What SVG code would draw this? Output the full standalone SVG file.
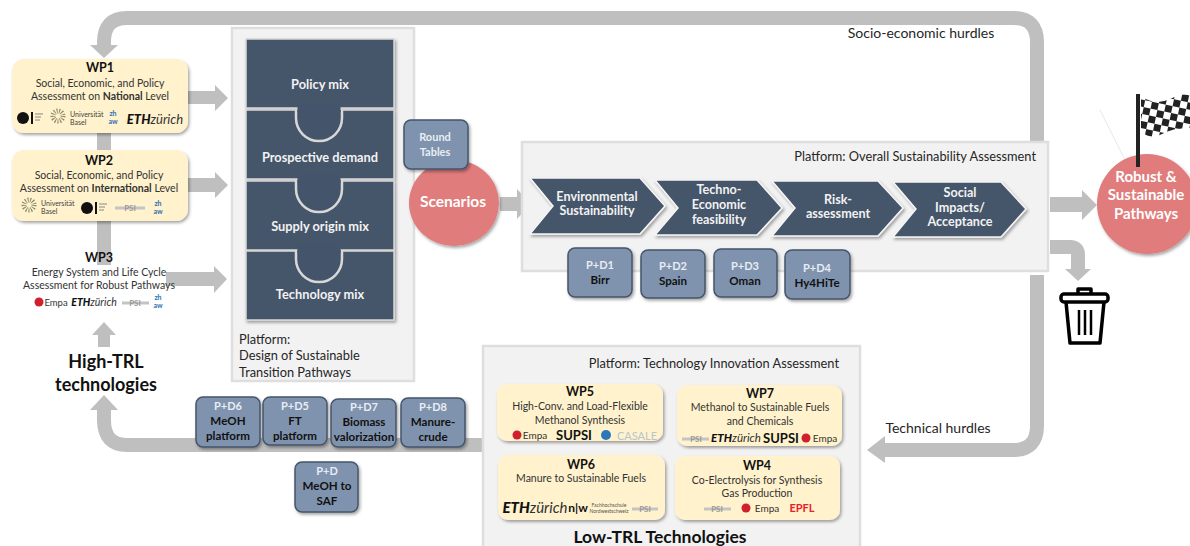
<svg xmlns="http://www.w3.org/2000/svg" width="1190" height="546" viewBox="0 0 1190 546">
<style>
svg{fill:#262626}
text{font-family:Lato,"Open Sans","Liberation Sans",sans-serif;text-anchor:middle}
.band{fill:none;stroke:#bfbfbf;stroke-width:14}
.head{fill:#bfbfbf}
.plat{fill:#f2f2f2;stroke:#dedede;stroke-width:2.5}
.wp{fill:#fff2cc;filter:url(#sh)}
.t{font-size:10.5px;fill:#333}
.h{font-size:12.5px;font-weight:700;fill:#111}
.pl{font-size:12.8px}
.hur{font-size:14px}
.pz{fill:#44546a;stroke:#d9d9d9;stroke-width:1.5;filter:url(#sh)}
.pzt{font-size:12.8px;font-weight:700;fill:#f2f2f2}
.chev{fill:#44546a;stroke:#f5f5f5;stroke-width:1.5;filter:url(#sh)}
.cht{font-size:12.6px;font-weight:700;fill:#f2f2f2}
.pd{fill:#7f93ae;stroke:#44546a;stroke-width:1.5;filter:url(#sh)}
.pa{font-size:11px;font-weight:700;fill:#e8edf3}
.pb{font-size:11.6px;font-weight:700;fill:#111}
.red{fill:#e07b7b;filter:url(#sh)}
.rt{fill:#fff;font-weight:700}
.lg{font-size:7px;fill:#444}
.eth{font-size:13px;font-weight:900;font-style:italic;fill:#111}
.zh{font-size:7px;font-weight:700;fill:#2a6fb5}
.psi{font-size:8px;font-weight:700;fill:#9a9a9a}
.emp{font-size:10px;fill:#333}
.big{font-size:18px;font-weight:700;fill:#111}
.sup{font-size:13px;font-weight:700;fill:#111}
.bars{stroke:#c4c4c4;stroke-width:3;fill:none}
.burst{fill:none;stroke:#8a8a6a;stroke-width:5;stroke-dasharray:1 1.4}
</style>
<defs>
<filter id="sh" x="-10%" y="-10%" width="125%" height="125%"><feDropShadow dx="1.5" dy="2" stdDeviation="1.5" flood-color="#000" flood-opacity="0.35"/></filter>
<pattern id="chk" width="14" height="14" patternUnits="userSpaceOnUse" patternTransform="rotate(12)"><rect width="14" height="14" fill="#fff"/><rect width="7" height="7" fill="#222"/><rect x="7" y="7" width="7" height="7" fill="#222"/></pattern>
</defs>

<g id="connectors">
<path class="band" d="M1037 165V42Q1037 18 1013 18H127Q104 18 104 42V47"/>
<polygon class="head" points="90,45 118,45 104,58"/>
<path class="band" d="M104 133V265"/>
<path class="band" d="M1037 275V426Q1037 450 1013 450H882"/>
<polygon class="head" points="885,436 885,463 867,450"/>
<path class="band" d="M485 445H127Q104 445 104 420V410"/>
<polygon class="head" points="90,410 118,410 104,395"/>
<polygon class="head" points="98,347 110,347 110,335 116,335 104,322 92,335 98,335"/>
<polygon class="head" points="188,91 215,91 215,85 228,98 215,111 215,104 188,104"/>
<polygon class="head" points="188,178 215,178 215,172 228,185 215,198 215,192 188,192"/>
<polygon class="head" points="166,272 214,272 214,266 227,279 214,293 214,286 166,286"/>
<polygon class="head" points="500,197 517,197 517,189 531,204 517,219 517,211 500,211"/>
<polygon class="head" points="1050,197 1082,197 1082,190 1097,205 1082,220 1082,212 1050,212"/>
<path class="band" d="M1050 247H1070Q1078 247 1078 255V270"/>
<polygon class="head" points="1065,269 1091,269 1078,281"/>
<path d="M1100 110L1130 170" stroke="#e8e8e8" stroke-width="1" fill="none"/>
<text class="hur" x="921" y="38">Socio-economic hurdles</text>
<text class="hur" x="938" y="433">Technical hurdles</text>
</g>

<g id="platform-design">
<rect class="plat" x="232" y="28" width="182" height="353"/>
<text x="239" y="344" class="pl" style="text-anchor:start">Platform:</text>
<text x="239" y="360" class="pl" style="text-anchor:start">Design of Sustainable</text>
<text x="239" y="377" class="pl" style="text-anchor:start">Transition Pathways</text>
</g>

<g id="puzzle">
<rect class="pz" x="246" y="39" width="148" height="69"/>
<rect class="pz" x="246" y="110" width="148" height="69"/>
<rect class="pz" x="246" y="181" width="148" height="69"/>
<rect class="pz" x="246" y="251" width="148" height="69"/>
<g fill="#44546a" stroke="#d8d8d8" stroke-width="2.500">
<path d="M296 110V118A23 23 0 0 0 342 118V110"/>
<path d="M296 180V189A23 23 0 0 0 342 189V180"/>
<path d="M296 250V259A23 23 0 0 0 342 259V250"/>
</g>
<path d="M297.500 108H340.500M297.500 178.500H340.500M297.500 248.500H340.500" stroke="#44546a" stroke-width="8"/>
<text class="pzt" x="320" y="89">Policy mix</text>
<text class="pzt" x="320" y="162">Prospective demand</text>
<text class="pzt" x="320" y="231">Supply origin mix</text>
<text class="pzt" x="320" y="299">Technology mix</text>
</g>

<g id="wp1">
<rect class="wp" x="12" y="59" width="176" height="74" rx="12"/>
<text class="h" x="100" y="72">WP1</text>
<text class="t" x="100" y="87">Social, Economic, and Policy</text>
<text class="t" x="100" y="100">Assessment on <tspan font-weight="700">National</tspan> Level</text>
<circle cx="23" cy="118" r="6" fill="#111"/><rect x="31" y="112" width="2" height="12" fill="#111"/><path d="M35 114H43M35 117H41M35 120H40" stroke="#888" fill="none"/>
<circle class="burst" cx="58" cy="116" r="5"/>
<text class="lg" x="70" y="117" style="text-anchor:start">Universität</text><text class="lg" x="70" y="124.500" style="text-anchor:start">Basel</text>
<text class="zh" x="113" y="116">zh</text><text class="zh" x="113" y="124">aw</text>
<text class="eth" x="155" y="124">ETH<tspan font-weight="400" fill="#333">zürich</tspan></text>
</g>

<g id="wp2">
<rect class="wp" x="12" y="150" width="176" height="71" rx="12"/>
<text class="h" x="99" y="165">WP2</text>
<text class="t" x="99" y="179">Social, Economic, and Policy</text>
<text class="t" x="99" y="192">Assessment on <tspan font-weight="700">International</tspan> Level</text>
<circle class="burst" cx="29" cy="205" r="5"/>
<text class="lg" x="41" y="206" style="text-anchor:start">Universität</text><text class="lg" x="41" y="213.500" style="text-anchor:start">Basel</text>
<circle cx="87" cy="208" r="6" fill="#111"/><rect x="95" y="202" width="2" height="12" fill="#111"/><path d="M99 204H107M99 207H105M99 210H104" stroke="#888" fill="none"/>
<path class="bars" d="M115 208H145"/><text class="psi" x="130" y="211">PSI</text>
<text class="zh" x="158" y="206">zh</text><text class="zh" x="158" y="214">aw</text>
</g>

<g id="wp3">
<text class="h" x="99" y="262">WP3</text>
<text class="t" x="99" y="276">Energy System and Life Cycle</text>
<text class="t" x="99" y="289">Assessment for Robust Pathways</text>
<circle cx="39" cy="302" r="4.500" fill="#d0202e"/>
<text class="emp" x="56" y="306" style="font-size:9.500px">Empa</text>
<text class="eth" x="94" y="306" style="font-size:10.500px">ETH<tspan font-weight="400" fill="#333">zürich</tspan></text>
<path class="bars" d="M122 303H149"/><text class="psi" x="135" y="306">PSI</text>
<text class="zh" x="158" y="300">zh</text><text class="zh" x="158" y="308">aw</text>
</g>

<g id="high-trl">
<text class="big" x="106" y="368">High-TRL</text>
<text class="big" x="106" y="391">technologies</text>
</g>

<g id="scenarios">
<ellipse class="red" cx="454" cy="203" rx="45" ry="43"/>
<text class="rt" x="453" y="207" style="font-size:15.500px">Scenarios</text>
</g>
<g id="round-tables">
<rect class="pd" x="404" y="120" width="64" height="49" rx="7"/>
<text class="pa" x="435" y="141">Round</text>
<text class="pa" x="435" y="156">Tables</text>
</g>

<g id="platform-overall">
<rect class="plat" x="522" y="142" width="526" height="129"/>
<text class="pl" x="1036" y="161" style="text-anchor:end">Platform: Overall Sustainability Assessment</text>
</g>
<g id="chevrons">
<polygon class="chev" points="530,178 640,178 665,206 640,234 530,234 553,206"/>
<polygon class="chev" points="655,180 757,180 782,208 757,235 655,235 678,208"/>
<polygon class="chev" points="772,181 878,181 903,208 878,236 772,236 795,208"/>
<polygon class="chev" points="893,182 1001,182 1026,209 1001,237 893,237 916,209"/>
<text class="cht" x="597" y="201">Environmental</text><text class="cht" x="597" y="215">Sustainability</text>
<text class="cht" x="719" y="194">Techno-</text><text class="cht" x="719" y="209">Economic</text><text class="cht" x="719" y="224">feasibility</text>
<text class="cht" x="838" y="204">Risk-</text><text class="cht" x="838" y="218">assessment</text>
<text class="cht" x="960" y="197">Social</text><text class="cht" x="960" y="212">Impacts/</text><text class="cht" x="960" y="226">Acceptance</text>
</g>

<g id="pd1"><rect class="pd" x="568" y="248" width="64" height="49" rx="7"/><text class="pa" x="600" y="269">P+D1</text><text class="pb" x="600" y="284">Birr</text></g>
<g id="pd2"><rect class="pd" x="641" y="250" width="64" height="48" rx="7"/><text class="pa" x="673" y="270">P+D2</text><text class="pb" x="673" y="285">Spain</text></g>
<g id="pd3"><rect class="pd" x="714" y="249" width="63" height="48" rx="7"/><text class="pa" x="745" y="270">P+D3</text><text class="pb" x="745" y="285">Oman</text></g>
<g id="pd4"><rect class="pd" x="785" y="250" width="65" height="49" rx="7"/><text class="pa" x="817" y="272">P+D4</text><text class="pb" x="817" y="287">Hy4HiTe</text></g>

<g id="robust">
<ellipse class="red" cx="1147" cy="204" rx="50" ry="50"/>
<text class="rt" x="1146" y="182" style="font-size:15px">Robust &amp;</text>
<text class="rt" x="1146" y="200" style="font-size:15px">Sustainable</text>
<text class="rt" x="1146" y="219" style="font-size:15px">Pathways</text>
</g>
<g id="flag">
<rect x="1136" y="94" width="4" height="73" fill="#222"/>
<path d="M1141 96Q1155 106 1170 99T1190 96V128Q1172 128 1162 134T1141 132Z" fill="url(#chk)"/>
</g>
<g id="trash" fill="none" stroke="#000" stroke-width="3.500" stroke-linejoin="round">
<rect x="1061" y="294" width="47" height="8" rx="3"/>
<path d="M1078 294V289H1091V294"/>
<path d="M1066 302L1070 343H1100L1104 302"/>
<path d="M1079 310V335M1085 310V335M1091 310V335" stroke-width="2.500"/>
</g>

<g id="platform-tech">
<rect class="plat" x="483" y="346" width="377" height="204"/>
<text class="pl" x="839" y="368" style="text-anchor:end">Platform: Technology Innovation Assessment</text>
<text class="big" x="660" y="543" style="font-size:17.500px">Low-TRL Technologies</text>
</g>

<g id="wp5">
<rect class="wp" x="497" y="384" width="166" height="57" rx="10"/>
<text class="h" x="580" y="396">WP5</text>
<text class="t" x="580" y="410">High-Conv. and Load-Flexible</text>
<text class="t" x="580" y="424">Methanol Synthesis</text>
<circle cx="517" cy="435" r="4.500" fill="#d0202e"/>
<text class="emp" x="535" y="439">Empa</text>
<text class="sup" x="574" y="440">SUPSI</text>
<circle cx="606" cy="435" r="5" fill="#2b78b8"/>
<text x="637" y="439.500" font-size="11" fill="#b9c4cc">CASALE</text>
</g>
<g id="wp7">
<rect class="wp" x="677" y="385" width="165" height="61" rx="10"/>
<text class="h" x="760" y="398">WP7</text>
<text class="t" x="760" y="411">Methanol to Sustainable Fuels</text>
<text class="t" x="760" y="425">and Chemicals</text>
<path class="bars" d="M682 439H709"/><text class="psi" x="696" y="442">PSI</text>
<text class="eth" x="736" y="442" style="font-size:11.500px">ETH<tspan font-weight="400" fill="#333">zürich</tspan></text>
<text class="sup" x="781" y="443">SUPSI</text>
<circle cx="806" cy="438" r="4.500" fill="#d0202e"/>
<text class="emp" x="825" y="442">Empa</text>
</g>
<g id="wp6">
<rect class="wp" x="498" y="455" width="167" height="65" rx="10"/>
<text class="h" x="581" y="469">WP6</text>
<text class="t" x="581" y="482">Manure to Sustainable Fuels</text>
<text class="eth" x="535" y="513" style="font-size:15px">ETH<tspan font-weight="400" fill="#333">zürich</tspan></text>
<text x="578" y="512" font-size="12" font-weight="700" fill="#111">n|w</text>
<text x="609" y="507" font-size="5" fill="#555">Fachhochschule</text><text x="609" y="513" font-size="5" fill="#555">Nordwestschweiz</text>
<path class="bars" d="M632 509H658"/><text class="psi" x="645" y="512">PSI</text>
</g>
<g id="wp4">
<rect class="wp" x="675" y="456" width="165" height="64" rx="10"/>
<text class="h" x="757" y="470">WP4</text>
<text class="t" x="757" y="484">Co-Electrolysis for Synthesis</text>
<text class="t" x="757" y="497">Gas Production</text>
<path class="bars" d="M704 509H731"/><text class="psi" x="717" y="512">PSI</text>
<circle cx="746" cy="508" r="4.500" fill="#d0202e"/>
<text class="emp" x="767" y="512">Empa</text>
<text x="802" y="512" font-size="11" font-weight="700" fill="#e8202a">EPFL</text>
</g>

<g id="pd6"><rect class="pd" x="196" y="397" width="64" height="50" rx="7"/><text class="pa" x="228" y="410">P+D6</text><text class="pb" x="228" y="425">MeOH</text><text class="pb" x="228" y="440">platform</text></g>
<g id="pd5"><rect class="pd" x="263" y="397" width="64" height="48" rx="7"/><text class="pa" x="295" y="410">P+D5</text><text class="pb" x="295" y="425">FT</text><text class="pb" x="295" y="440">platform</text></g>
<g id="pd7"><rect class="pd" x="331" y="399" width="65" height="48" rx="7"/><text class="pa" x="364" y="411">P+D7</text><text class="pb" x="364" y="426">Biomass</text><text class="pb" x="364" y="441">valorization</text></g>
<g id="pd8"><rect class="pd" x="401" y="398" width="64" height="49" rx="7"/><text class="pa" x="433" y="411">P+D8</text><text class="pb" x="433" y="426">Manure-</text><text class="pb" x="433" y="441">crude</text></g>
<g id="pd9"><rect class="pd" x="295" y="462" width="63" height="50" rx="7"/><text class="pa" x="327" y="475">P+D</text><text class="pb" x="327" y="490">MeOH to</text><text class="pb" x="327" y="505">SAF</text></g>
</svg>
